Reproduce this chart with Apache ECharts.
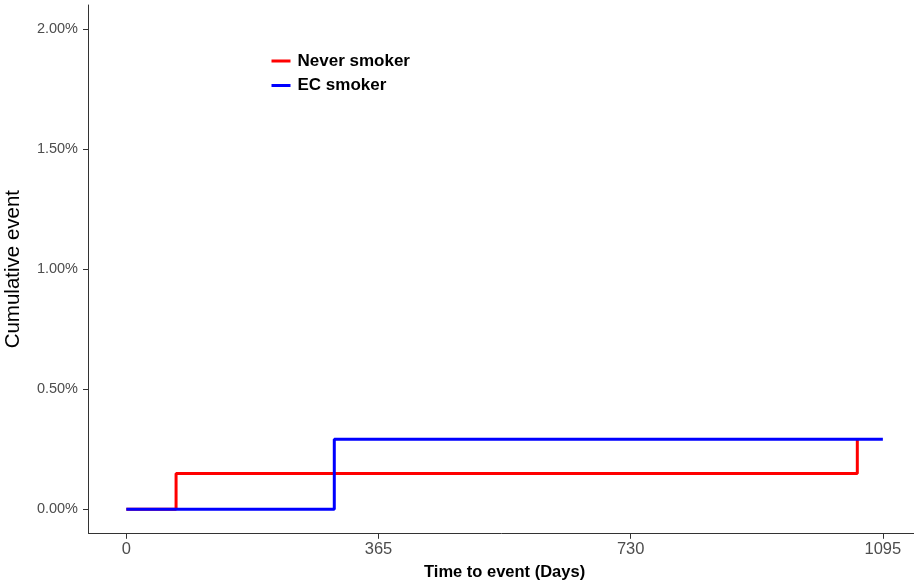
<!DOCTYPE html>
<html>
<head>
<meta charset="utf-8">
<script src="https://cdn.jsdelivr.net/npm/echarts@6/dist/echarts.min.js"></script>
<style>
html,body{margin:0;padding:0;background:#fff;}
#chart{width:914px;height:587px;}
</style>
</head>
<body>
<div id="chart"></div>
<script>
// Data (x = days, y = cumulative event in %)
const seriesNames = ['Never smoker', 'EC smoker'];
const neverSmokerDays = [0, 72, 1058];
const neverSmokerPct = [0, 0.149, 0.292];
const ecSmokerDays = [0, 301, 1095];
const ecSmokerPct = [0, 0.292, 0.292];
const xTicks = [0, 365, 730, 1095];
const yTicks = [0, 0.5, 1.0, 1.5, 2.0];
const colors = ['#FF0000', '#0000FF'];

const toPairs = (xs, ys) => xs.map((x, i) => [x, ys[i]]);

const chart = echarts.init(document.getElementById('chart'));
const font = 'Liberation Sans, Arial, sans-serif';
chart.setOption({
  animation: false,
  backgroundColor: '#fff',
  grid: { left: 88.5, right: -6.7, top: 5, bottom: 53.7, containLabel: false, outerBoundsMode: 'none' },
  legend: {
    left: 266.5, top: 47.5, orient: 'vertical',
    itemWidth: 19, itemHeight: 3, itemGap: 7.5,
    icon: 'rect',
    data: seriesNames,
    textStyle: { fontFamily: font, fontSize: 17, fontWeight: 'bold', color: '#000', padding: [0, 0, 0, 2] }
  },
  xAxis: {
    type: 'value', min: -54.75, max: 1149.75,
    name: 'Time to event (Days)', nameLocation: 'middle', nameGap: 31,
    nameTextStyle: { fontFamily: font, fontSize: 16.5, fontWeight: 'bold', color: '#000' },
    axisLine: { show: true, onZero: false, lineStyle: { color: '#333', width: 1 } },
    axisTick: { show: true, length: 5.5, customValues: xTicks, lineStyle: { color: '#333' } },
    axisLabel: { customValues: xTicks, margin: 8, fontFamily: font, fontSize: 16.5, color: '#4D4D4D',
      formatter: v => String(v) },
    splitLine: { show: false }
  },
  yAxis: {
    type: 'value', min: -0.1, max: 2.1,
    name: 'Cumulative event', nameLocation: 'middle', nameGap: 65,
    nameTextStyle: { fontFamily: font, fontSize: 20.5, color: '#000' },
    axisLine: { show: true, onZero: false, lineStyle: { color: '#333', width: 1 } },
    axisTick: { show: true, length: 5.5, customValues: yTicks, lineStyle: { color: '#333' } },
    axisLabel: { customValues: yTicks, margin: 10.5, fontFamily: font, fontSize: 14.5, color: '#4D4D4D',
      formatter: v => v.toFixed(2) + '%' },
    splitLine: { show: false }
  },
  series: [
    { name: seriesNames[0], type: 'line', step: 'end', showSymbol: false, symbol: 'none',
      data: toPairs(neverSmokerDays, neverSmokerPct), color: colors[0],
      lineStyle: { color: colors[0], width: 3 } },
    { name: seriesNames[1], type: 'line', step: 'end', showSymbol: false, symbol: 'none',
      data: toPairs(ecSmokerDays, ecSmokerPct), color: colors[1],
      lineStyle: { color: colors[1], width: 3 } }
  ]
});
</script>
</body>
</html>
